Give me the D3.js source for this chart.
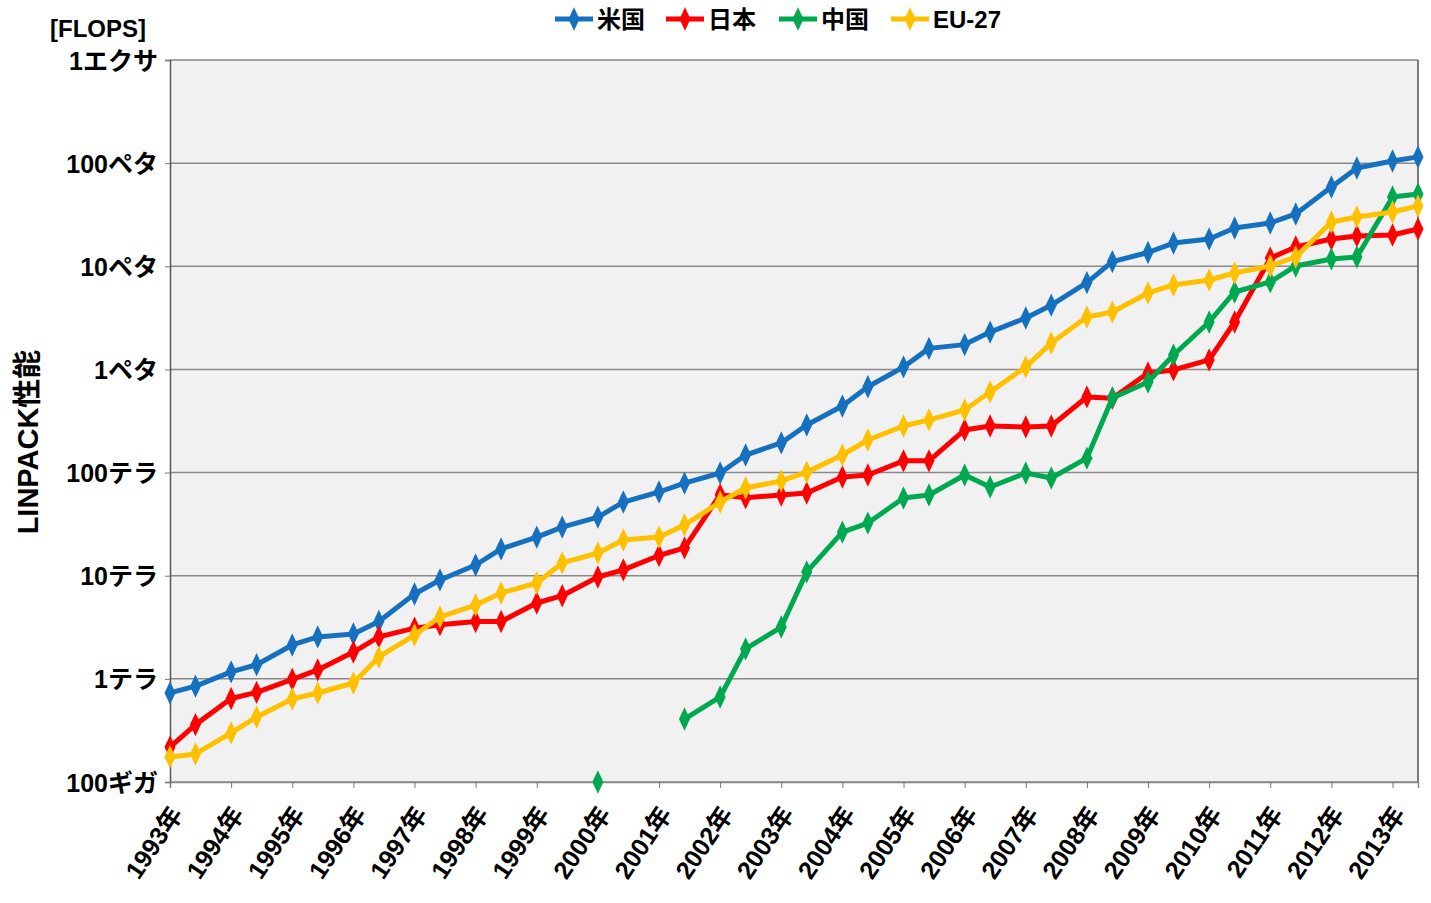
<!DOCTYPE html>
<html><head><meta charset="utf-8">
<script src="https://cdn.jsdelivr.net/npm/d3@7"></script>
<style>
body{margin:0;background:#fff;}
text{font-family:"Liberation Sans","Noto Sans CJK JP",sans-serif;font-weight:bold;fill:#000;}
</style></head>
<body><svg id="c" width="1431" height="903"></svg>
<script>
// Survey dates: June and November of each year, 1993–2013 (42 points)
const years = d3.range(1993, 2014);
const yearLabels = years.map(y => y + "年");
// Performance in TFLOPS (null = no data)
const usa = [0.73, 0.85, 1.17, 1.37, 2.13, 2.55, 2.72, 3.6, 6.65, 9.1,
  12.7, 18.2, 23.7, 29.6, 37, 51.8, 64.8, 79, 99, 148,
  194, 289, 442, 680, 1057, 1600, 1740, 2300, 3154, 4200,
  6950, 11100, 13600, 16800, 18400, 23500, 26300, 32150, 58700, 89800,
  105000, 115000];
const japan = [0.218, 0.36, 0.645, 0.74, 0.99, 1.22, 1.82, 2.55, 3.1, 3.35,
  3.6, 3.6, 5.44, 6.4, 9.72, 11.4, 15.7, 18.6, 61, 57,
  60.6, 63.4, 90.6, 94.8, 130, 130, 259, 283, 277, 283,
  541, 525, 923, 989, 1236, 2884, 12000, 15400, 18400, 19700,
  20100, 23000];
const china = [null, null, null, null, null, null, null, null, null, null,
  null, null, null, null, 0.1, null, null, 0.408, 0.667, 1.95,
  3.18, 10.9, 26.5, 32.4, 56.7, 60.6, 94.8, 72.4, 99, 88.6,
  138, 529, 755, 1380, 2884, 5636, 7050, 10070, 11780, 12300,
  47000, 50200];
const eu27 = [0.175, 0.187, 0.299, 0.427, 0.638, 0.729, 0.912, 1.63, 2.66, 3.98,
  5.2, 6.8, 8.5, 13.3, 16.6, 22.2, 23.7, 31, 51.8, 70.8,
  82.9, 101, 148, 207, 283, 324, 404, 604, 1057, 1803,
  3223, 3606, 5510, 6590, 7360, 8610, 10070, 12300, 26900, 30100,
  33600, 38500];
const seriesNames = ["米国", "日本", "中国", "EU-27"];
const seriesColors = ["#1570c0", "#ff0000", "#00a850", "#ffc000"];
const tickValues = [1e11, 1e12, 1e13, 1e14, 1e15, 1e16, 1e17, 1e18];
const tickLabels = ["100ギガ", "1テラ", "10テラ", "100テラ", "1ペタ", "10ペタ", "100ペタ", "1エクサ"];

const times = usa.map((_, i) => 1993 + Math.floor(i / 2) + (i % 2 ? 5 / 12 : 0));
const allSeries = [usa, japan, china, eu27];

const svg = d3.select("#c");
const L = 170, R = 1418, T = 60, B = 782;
const x = d3.scaleLinear().domain([1993, 2013 + 5 / 12]).range([L, R]);
const y = d3.scaleLog().domain([1e11, 1e18]).range([B, T]);

// plot background
svg.append("rect").attr("x", L).attr("y", T).attr("width", R - L).attr("height", B - T).attr("fill", "#f1f1f1");

// gridlines
svg.append("g").selectAll("line").data(tickValues).join("line")
  .attr("x1", L).attr("x2", R).attr("y1", d => y(d)).attr("y2", d => y(d))
  .attr("stroke", "#8a8a8a").attr("stroke-width", 1.5);

// y axis
const yAxis = d3.axisLeft(y).tickValues(tickValues).tickSize(5).tickPadding(8)
  .tickFormat((d, i) => tickLabels[i]);
const gy = svg.append("g").attr("transform", `translate(${L},0)`).call(yAxis);
gy.select(".domain").attr("stroke", "#555").attr("stroke-width", 1.5);
gy.selectAll(".tick line").attr("stroke", "#777");
gy.selectAll("text").attr("font-size", 25).attr("font-family", null).attr("dy", "0.36em").attr("x", -12);

// right border
svg.append("line").attr("x1", R).attr("x2", R).attr("y1", T).attr("y2", B).attr("stroke", "#555").attr("stroke-width", 1.5);

// x axis
const xAxis = d3.axisBottom(x).tickValues(years).tickSize(6).tickFormat((d, i) => yearLabels[i]);
const gx = svg.append("g").attr("transform", `translate(0,${B})`).call(xAxis);
gx.select(".domain").attr("stroke", "#888").attr("stroke-width", 1.5);
gx.selectAll(".tick line").attr("stroke", "#777");
gx.selectAll("text").attr("font-size", 25).attr("font-family", null)
  .attr("text-anchor", "end").attr("dy", "0.35em").attr("y", 0)
  .attr("transform", "translate(6,27) rotate(-56)");

// lines and markers
const line = d3.line().defined(d => d.v != null).x(d => x(d.t)).y(d => y(d.v * 1e12));
const diamond = d3.symbol().type(d3.symbolDiamond).size(130);
allSeries.forEach((s, k) => {
  const pts = s.map((v, i) => ({t: times[i], v}));
  const g = svg.append("g");
  g.append("path").datum(pts).attr("d", line).attr("fill", "none")
    .attr("stroke", seriesColors[k]).attr("stroke-width", 5).attr("stroke-linejoin", "round");
  g.selectAll("path.m").data(pts.filter(d => d.v != null)).join("path").attr("class", "m")
    .attr("d", diamond).attr("fill", seriesColors[k])
    .attr("transform", d => `translate(${x(d.t)},${y(d.v * 1e12)}) scale(0.9,1.1)`);
});

// axis titles
svg.append("text").attr("x", 50).attr("y", 37).attr("font-size", 24).text("[FLOPS]");
svg.append("text").attr("transform", "translate(38,442) rotate(-90)").attr("text-anchor", "middle")
  .attr("font-size", 29).text("LINPACK性能");

// legend
const legX = [555, 666, 779, 891];
const leg = svg.append("g");
seriesNames.forEach((n, k) => {
  const g = leg.append("g").attr("transform", `translate(${legX[k]},19)`);
  g.append("line").attr("x1", 0).attr("x2", 38).attr("stroke", seriesColors[k]).attr("stroke-width", 5);
  g.append("path").attr("d", diamond).attr("fill", seriesColors[k]).attr("transform", "translate(19,0) scale(0.9,1.1)");
  g.append("text").attr("x", 42).attr("y", 0).attr("dy", "0.36em").attr("font-size", 24).text(n);
});
</script></body></html>
